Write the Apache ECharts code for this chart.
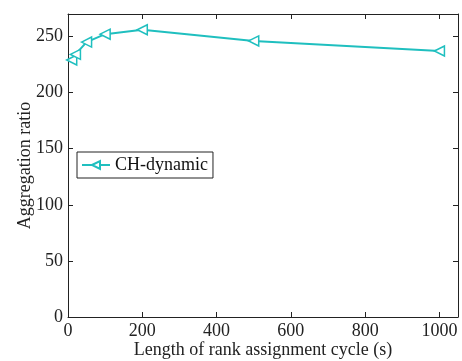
<!DOCTYPE html>
<html><head><meta charset="utf-8">
<script src="https://cdn.jsdelivr.net/npm/echarts@6/dist/echarts.min.js"></script>
<style>html,body{margin:0;padding:0;background:#fff}#c{width:462px;height:361px}</style>
</head><body><div id="c"></div>
<script>
const xValues = [10, 20, 50, 100, 200, 500, 1000];
const aggRatio = [229, 234, 245, 252, 256, 246, 237];
const seriesName = 'CH-dynamic';
const xTitle = 'Length of rank assignment cycle (s)';
const yTitle = 'Aggregation ratio';

const font = 'Liberation Serif';
const col = '#1fbfbf';
const chart = echarts.init(document.getElementById('c'));
function axisCommon() {
  return {
    axisLine: {show: true, onZero: false, lineStyle: {color: '#222', width: 1}},
    axisTick: {show: true, inside: true, length: 5, lineStyle: {color: '#222'}},
    splitLine: {show: false}
  };
}
chart.setOption({
  animation: false,
  grid: {left: 68, right: 4, top: 14, bottom: 44, containLabel: false, outerBoundsMode: 'none'},
  legend: {
    data: [seriesName], left: 77, top: 152, orient: 'vertical',
    borderColor: '#222', borderWidth: 1, padding: [4, 5, 4, 4],
    itemWidth: 28, itemHeight: 10, itemGap: 4,
    textStyle: {fontFamily: font, fontSize: 18, color: '#111'}
  },
  xAxis: [
    Object.assign(axisCommon(), {
      type: 'value', min: 0, max: 1050, interval: 200,
      axisLabel: {fontFamily: font, fontSize: 18, color: '#222', margin: 5,
        formatter: v => v > 1000 ? '' : v},
      name: xTitle, nameLocation: 'middle', nameGap: 24, nameMoveOverlap: false,
      nameTextStyle: {fontFamily: font, fontSize: 18, color: '#222'}
    }),
    Object.assign(axisCommon(), {
      type: 'value', position: 'top', min: 0, max: 1050, interval: 200,
      axisLabel: {show: false}
    })
  ],
  yAxis: [
    Object.assign(axisCommon(), {
      type: 'value', min: 0, max: 270, interval: 50,
      axisLabel: {fontFamily: font, fontSize: 18, color: '#222', margin: 5,
        formatter: v => v > 250 ? '' : v},
      name: yTitle, nameLocation: 'middle', nameGap: 34, nameMoveOverlap: false,
      nameTextStyle: {fontFamily: font, fontSize: 18, color: '#222'}
    }),
    Object.assign(axisCommon(), {
      type: 'value', position: 'right', min: 0, max: 270, interval: 50,
      axisLabel: {show: false}
    })
  ],
  series: [{
    name: seriesName, type: 'line',
    data: xValues.map((x, i) => [x, aggRatio[i]]),
    symbol: 'path://M0,5 L10,0 L10,10 Z', symbolSize: 10,
    showAllSymbol: true,
    lineStyle: {color: col, width: 2},
    itemStyle: {color: '#fff', borderColor: col, borderWidth: 1.5}
  }]
});
</script></body></html>
